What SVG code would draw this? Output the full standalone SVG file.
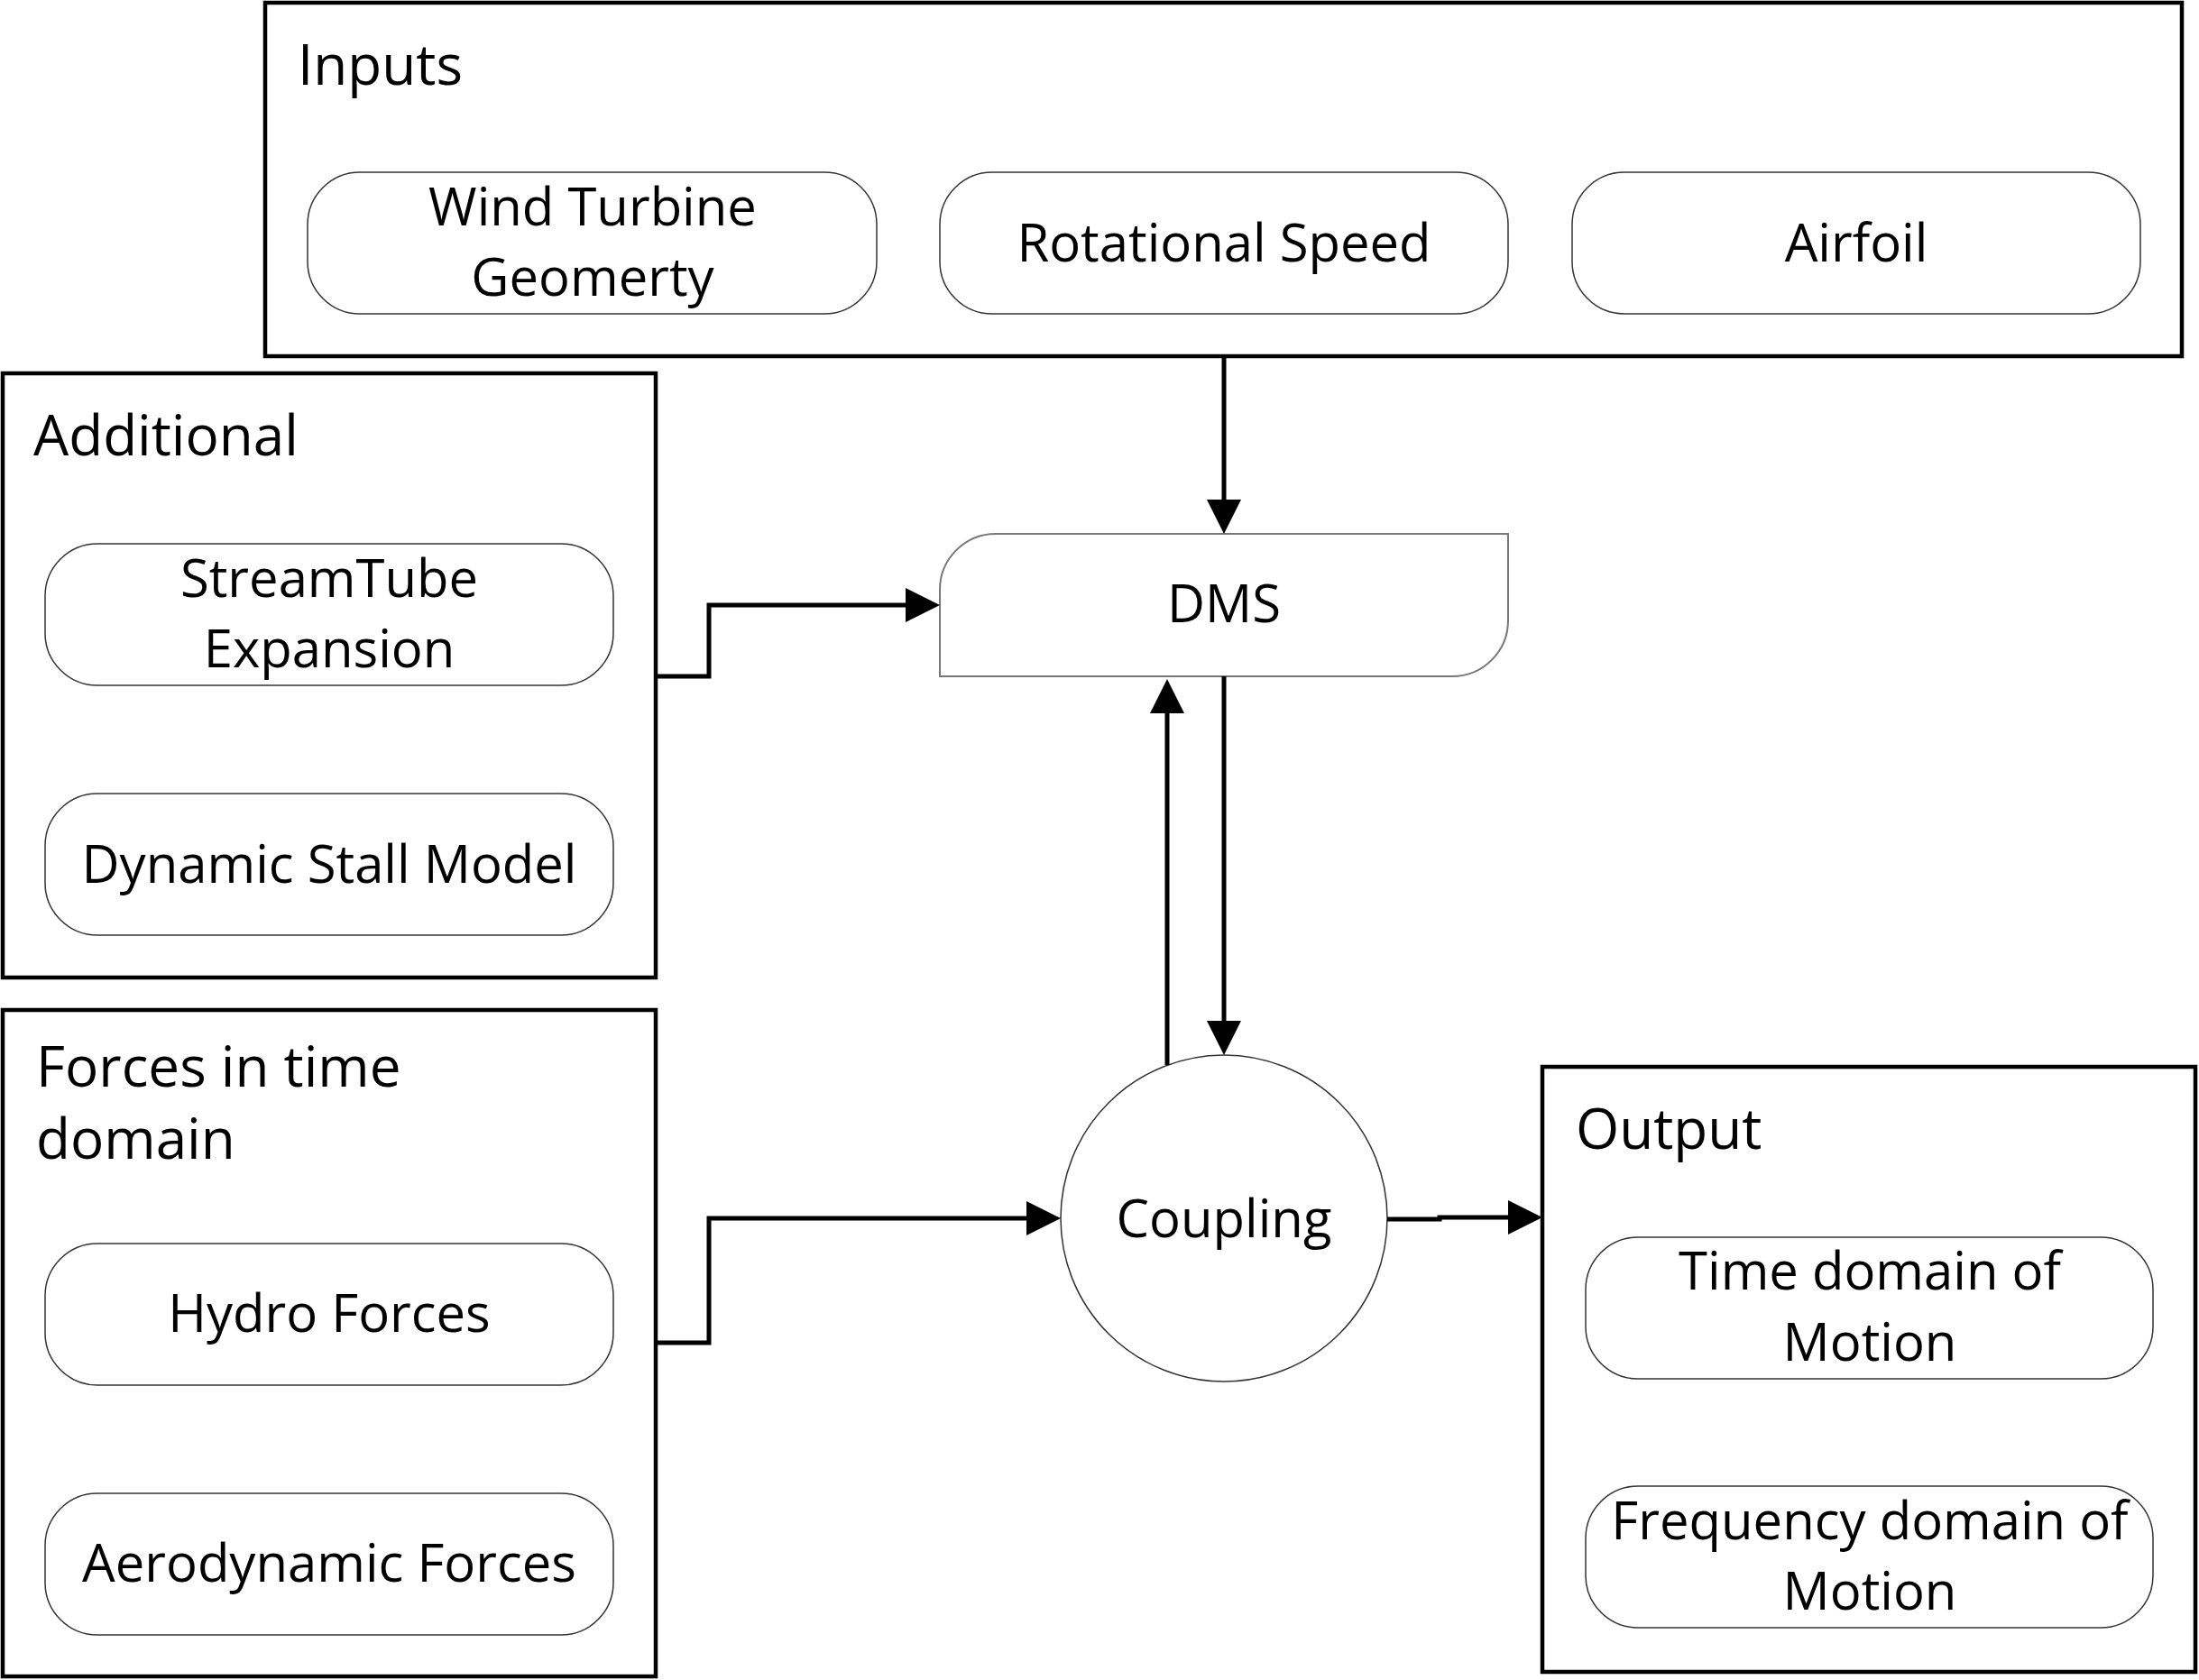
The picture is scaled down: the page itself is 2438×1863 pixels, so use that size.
<svg xmlns="http://www.w3.org/2000/svg" width="2438" height="1863" viewBox="0 0 2438 1863">
<style>
text{font-family:"Open Sans","Liberation Sans",sans-serif;fill:#000}
.lbl{font-size:58px;text-anchor:middle}
.ttl{font-size:62px}
.box{fill:#fff;stroke:#000;stroke-width:4.5}
.pill{fill:#fff;stroke:#333;stroke-width:1.5}
.con{fill:none;stroke:#000;stroke-width:5}
</style>
<defs>
<marker id="arr" markerUnits="userSpaceOnUse" markerWidth="40" markerHeight="40" viewBox="0 0 40 40" refX="1" refY="20" orient="auto">
<path d="M0,1 L38,20 L0,39 Z" fill="#000"/>
</marker>
</defs>
<rect width="2438" height="1863" fill="#fff"/>

<g id="inputs">
<rect class="box" x="294" y="3" width="2125" height="392"/>
<text class="ttl" x="330" y="94">Inputs</text>
</g>
<g id="wind-turbine">
<rect class="pill" x="341" y="191" width="631" height="157" rx="58" ry="58"/>
<text class="lbl" x="657" y="250">Wind Turbine</text>
<text class="lbl" x="657" y="328">Geomerty</text>
</g>
<g id="rotational-speed">
<rect class="pill" x="1042" y="191" width="630" height="157" rx="58" ry="58"/>
<text class="lbl" x="1357" y="290">Rotational Speed</text>
</g>
<g id="airfoil">
<rect class="pill" x="1743" y="191" width="630" height="157" rx="58" ry="58"/>
<text class="lbl" x="2058" y="290">Airfoil</text>
</g>

<g id="additional">
<rect class="box" x="3" y="414" width="724" height="670"/>
<text class="ttl" x="37" y="505">Additional</text>
</g>
<g id="streamtube">
<rect class="pill" x="50" y="603" width="630" height="157" rx="58" ry="58"/>
<text class="lbl" x="365" y="662">StreamTube</text>
<text class="lbl" x="365" y="740">Expansion</text>
</g>
<g id="dynamic-stall">
<rect class="pill" x="50" y="880" width="630" height="157" rx="58" ry="58"/>
<text class="lbl" x="365" y="979">Dynamic Stall Model</text>
</g>

<g id="forces">
<rect class="box" x="3" y="1120" width="724" height="739"/>
<text class="ttl" x="40" y="1205">Forces in time</text>
<text class="ttl" x="40" y="1285">domain</text>
</g>
<g id="hydro">
<rect class="pill" x="50" y="1379" width="630" height="157" rx="58" ry="58"/>
<text class="lbl" x="365" y="1477">Hydro Forces</text>
</g>
<g id="aero">
<rect class="pill" x="50" y="1656" width="630" height="157" rx="58" ry="58"/>
<text class="lbl" x="365" y="1754">Aerodynamic Forces</text>
</g>

<g id="dms">
<path d="M1042,750 L1042,654 A62,62 0 0 1 1104,592 L1672,592 L1672,688 A62,62 0 0 1 1610,750 Z" fill="#fff" stroke="#777" stroke-width="2"/>
<text class="lbl" x="1357" y="690">DMS</text>
</g>

<g id="coupling">
<circle cx="1357" cy="1351" r="181" fill="#fff" stroke="#333" stroke-width="1.5"/>
<text class="lbl" x="1357" y="1372">Coupling</text>
</g>

<g id="output">
<rect class="box" x="1710" y="1183" width="724" height="671"/>
<text class="ttl" x="1747" y="1274">Output</text>
</g>
<g id="time-domain">
<rect class="pill" x="1758" y="1372" width="629" height="157" rx="58" ry="58"/>
<text class="lbl" x="2073" y="1430">Time domain of</text>
<text class="lbl" x="2073" y="1509">Motion</text>
</g>
<g id="freq-domain">
<rect class="pill" x="1758" y="1648" width="629" height="157" rx="58" ry="58"/>
<text class="lbl" x="2073" y="1707">Frequency domain of</text>
<text class="lbl" x="2073" y="1785">Motion</text>
</g>

<g id="connectors">
<path class="con" d="M1357,395 L1357,555" marker-end="url(#arr)"/>
<path class="con" d="M727,750 L786,750 L786,671 L1005,671" marker-end="url(#arr)"/>
<path class="con" d="M1294,1181 L1294,790" marker-end="url(#arr)"/>
<path class="con" d="M1357,750 L1357,1133" marker-end="url(#arr)"/>
<path class="con" d="M727,1489 L786,1489 L786,1351 L1139,1351" marker-end="url(#arr)"/>
<path class="con" d="M1538,1352 L1596,1352 L1596,1350 L1673,1350" marker-end="url(#arr)"/>
</g>
</svg>
